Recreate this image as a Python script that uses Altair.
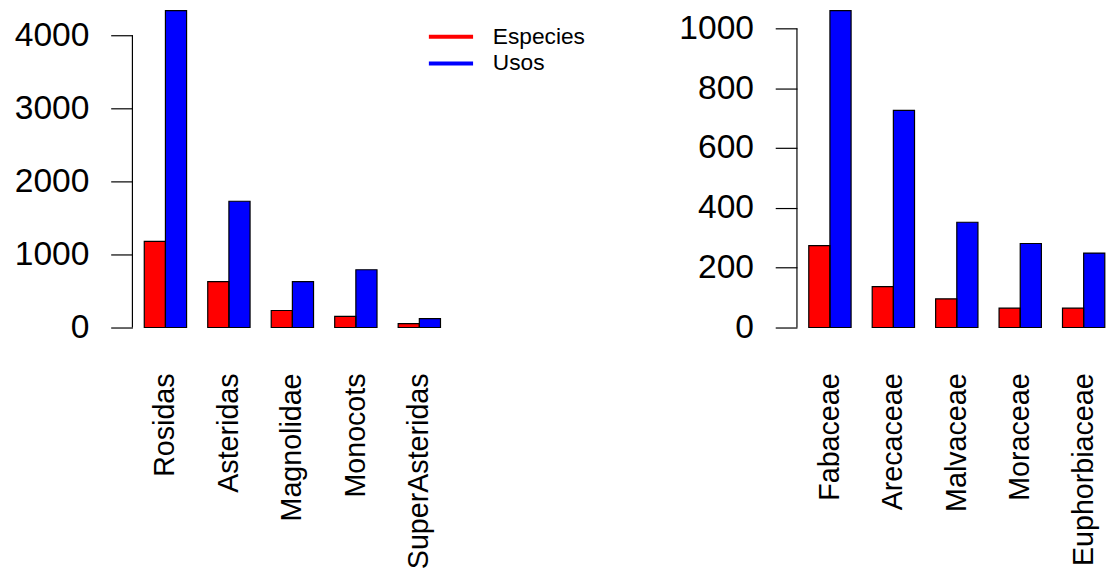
import altair as alt
import pandas as pd

FONT = "Liberation Sans"

series = ["Especies", "Usos"]
colors = ["#ff0000", "#0000ff"]

clados = ["Rosidas", "Asteridas", "Magnolidae", "Monocots", "SuperAsteridas"]
clados_especies = [1178, 629, 233, 152, 54]
clados_usos = [4337, 1728, 629, 791, 121]
clados_ticks = [0, 1000, 2000, 3000, 4000]

familias = ["Fabaceae", "Arecaceae", "Malvaceae", "Moraceae", "Euphorbiaceae"]
familias_especies = [274, 137, 96, 65, 65]
familias_usos = [1060, 726, 352, 281, 249]
familias_ticks = [0, 200, 400, 600, 800, 1000]


def panel(cats, esp, usos, ticks, width, pad_outer, align, legend):
    df = pd.DataFrame({
        "grupo": cats * 2,
        "serie": [series[0]] * len(cats) + [series[1]] * len(cats),
        "valor": esp + usos,
    })
    ymax = max(usos)
    x = alt.X(
        "grupo:N", sort=cats, title=None,
        scale=alt.Scale(paddingInner=1 / 3, paddingOuter=pad_outer, align=align),
        axis=alt.Axis(labelAngle=-90, labelFontSize=29, labelFont=FONT,
                      labelColor="black", ticks=False, tickSize=0, domain=False,
                      labelPadding=46, labelLimit=500),
    )
    xo = alt.XOffset("serie:N", sort=series,
                     scale=alt.Scale(paddingInner=0, paddingOuter=0))
    yaxis = alt.Axis(values=ticks, format="d", tickSize=22, tickWidth=1.2,
                     tickColor="black", labelPadding=22, labelFontSize=34,
                     labelFont=FONT, labelColor="black", domain=False, grid=False,
                     labelOverlap=False, labelFlush=False)
    yscale = alt.Scale(domain=[0, ymax], nice=False, zero=True)
    y = alt.Y("valor:Q", title=None, scale=yscale, axis=yaxis)
    base = alt.Chart(df)
    fill = base.mark_bar(strokeWidth=0).encode(
        x=x, xOffset=xo, y=y,
        color=alt.Color("serie:N", scale=alt.Scale(domain=series, range=colors),
                        legend=legend),
    )
    outline = base.mark_bar(fillOpacity=0, stroke="black", strokeWidth=1.2).encode(
        x=x, xOffset=xo, y=y,
    )
    dom = alt.Chart(pd.DataFrame({"valor": [ticks[0]], "fin": [ticks[-1]]})).mark_rule(
        color="black", strokeWidth=1.2
    ).encode(y=alt.Y("valor:Q", title=None, scale=yscale, axis=yaxis),
             y2="fin:Q", x=alt.value(0))
    return alt.layer(fill, outline, dom).properties(width=width, height=321)


leg = alt.Legend(
    title=None, orient="none", legendX=300, legendY=13,
    symbolType="M-1,-0.09H1V0.09H-1Z", symbolSize=2025, clipHeight=27,
    symbolStrokeWidth=0, symbolOpacity=1,
    labelFontSize=23, labelFont=FONT, labelColor="black", labelOffset=20,
    padding=0, rowPadding=0,
)

left = panel(clados, clados_especies, clados_usos, clados_ticks, 324, 0.1867, 0.5, leg)
right = panel(familias, familias_especies, familias_usos, familias_ticks, 314, 0.1107, 0.842, None)

chart = alt.hconcat(left, right, spacing=94).resolve_scale(
    color="independent"
).properties(
    padding={"left": 6, "top": -2, "right": 0, "bottom": 0},
    background="white",
).configure_view(stroke=None)

chart.save("out.html", embed_options={"renderer": "svg", "actions": False})
